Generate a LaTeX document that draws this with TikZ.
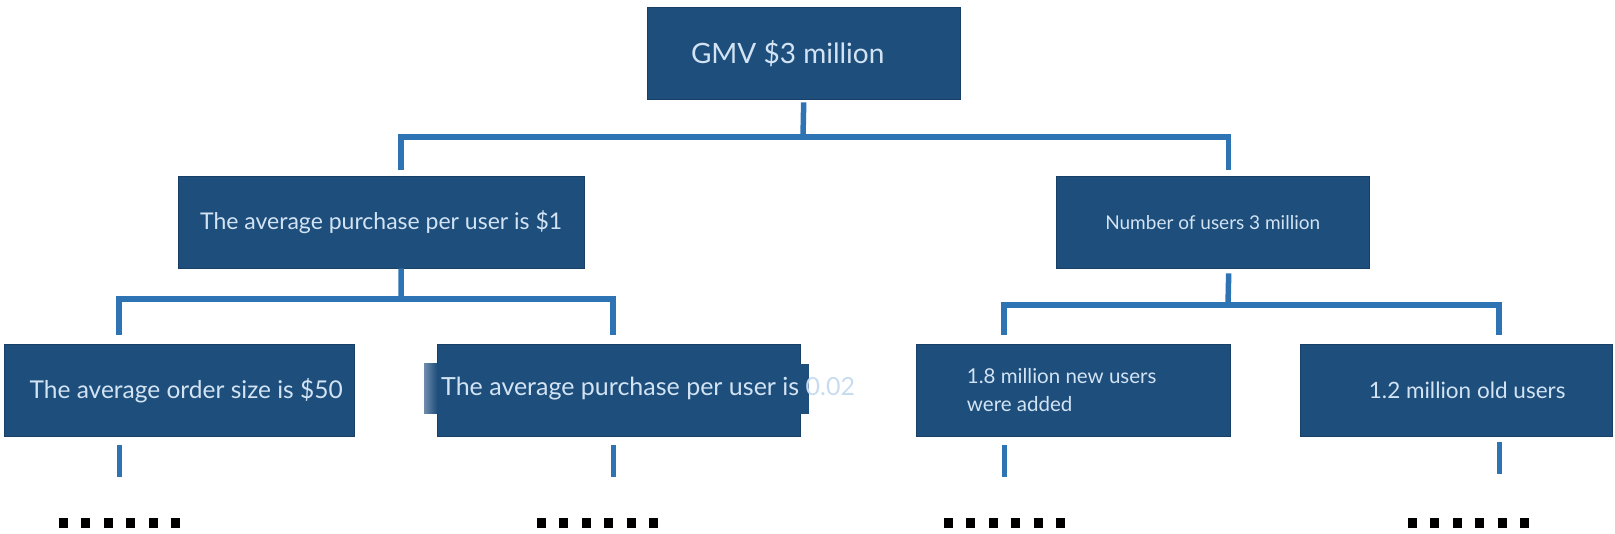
\documentclass[tikz,border=0pt]{standalone}
\usepackage{fontspec}
\setmainfont{Lato}
\usetikzlibrary{positioning}

\definecolor{boxblue}{HTML}{1E4E7B}
\definecolor{boxedge}{HTML}{183F66}
\definecolor{boxtext}{HTML}{D2E3F4}
\definecolor{linkblue}{HTML}{2E74B5}
\definecolor{paletext}{HTML}{C8DCF0}
\definecolor{fadeblue}{HTML}{6F8CAE}

\begin{document}
\begin{tikzpicture}[
    x=1pt, y=-1pt,
    box/.style={rectangle, draw=boxedge, fill=boxblue, text=boxtext, inner sep=0pt, anchor=north west, minimum height=92pt},
    link/.style={draw=linkblue, line width=5.5pt},
    stub/.style={draw=linkblue, line width=5pt}
]
\useasboundingbox (0,0) rectangle (1615,534);

% boxes
\node (gmv) [box, minimum width=313pt, font=\fontsize{28pt}{30pt}\selectfont] at (647,7) {GMV \$3 million\hspace*{32pt}};
\node (avg) [box, minimum width=406pt, font=\fontsize{23pt}{26pt}\selectfont] at (178,176) {The average purchase per user is \$1};
\node (users) [box, minimum width=313pt, font=\fontsize{19pt}{22pt}\selectfont] at (1056,176) {Number of users 3 million};
\node (order) [box, minimum width=350pt, font=\fontsize{24.5pt}{27pt}\selectfont] at (4,344) {\hspace*{14pt}The average order size is \$50};
\node (peruser) [box, minimum width=363pt] at (437,344) {};
\node (newusers) [box, minimum width=314pt, align=left, font=\fontsize{20.5pt}{28pt}\selectfont] at (916,344) {1.8 million new users\hspace*{23pt}\\were added};
\node (oldusers) [box, minimum width=312pt, font=\fontsize{22.5pt}{25pt}\selectfont] at (1300,344) {\hspace*{22pt}1.2 million old users};

% text strip over the second box
\fill[boxblue] (437,364) rectangle (809,414);
\shade[left color=fadeblue, right color=boxblue] (424,364) rectangle (437,414);
\node (peruserText) [anchor=west, inner sep=0pt, text=boxtext, font=\fontsize{25pt}{28pt}\selectfont] at (441,389) {The average purchase per user is {\color{paletext}0.02}};

% connectors
\coordinate (topbar) at (803,137);
\coordinate (lbar) at (401,299);
\coordinate (rbar) at (1228,305);

\draw[link] ([yshift=-3pt]gmv.south) -- (topbar);
\draw[link] ([xshift=20pt,yshift=6pt]avg.north) |- (topbar) -| ([xshift=16pt,yshift=6pt]users.north);

\draw[link] ([xshift=20pt]avg.south) -- (lbar);
\draw[link] ([xshift=-60pt,yshift=9pt]order.north) |- (lbar) -| ([xshift=-5.5pt,yshift=9pt]peruser.north);

\draw[link] ([xshift=16pt,yshift=-5pt]users.south) -- (rbar);
\draw[link] ([xshift=-69pt,yshift=9pt]newusers.north) |- (rbar) -| ([xshift=43pt,yshift=9pt]oldusers.north);

% stubs below
\draw[stub] ([xshift=-60pt,yshift=-9pt]order.south) -- ++(0,32);
\draw[stub] ([xshift=-5.5pt,yshift=-9pt]peruser.south) -- ++(0,32);
\draw[stub] ([xshift=-69pt,yshift=-9pt]newusers.south) -- ++(0,32);
\draw[stub] ([xshift=43pt,yshift=-6pt]oldusers.south) -- ++(0,32);

% dots
\foreach \gx in {59,537,944,1408}
  \foreach \i in {0,...,5}
    \fill[black] (\gx+22.4*\i,518) rectangle ++(9,10);

\end{tikzpicture}
\end{document}
